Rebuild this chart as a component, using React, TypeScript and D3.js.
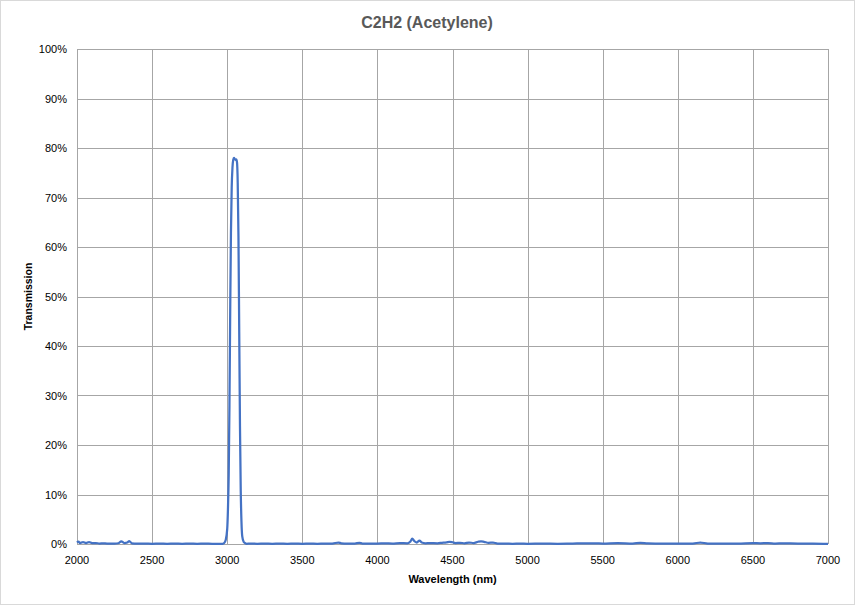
import React, { useEffect, useRef } from 'react';
import * as d3 from 'd3';

// wavelength (nm) and transmission (%)
const wavelengths = [
  2000, 2010, 2020, 2040, 2060, 2080, 2100, 2125, 2150, 2175, 2200, 2250, 2275, 2295, 2315, 2335, 2348,
  2365, 2400, 2450, 2500, 2550, 2600, 2650, 2700, 2750, 2800, 2850, 2900, 2950, 2970, 2980, 2990, 3000,
  3005, 3010, 3015, 3020, 3025, 3030, 3035, 3040, 3045, 3050, 3055, 3060, 3065, 3070, 3075, 3080, 3085,
  3090, 3095, 3100, 3110, 3120, 3130, 3150, 3200, 3250, 3300, 3350, 3400, 3450, 3500, 3550, 3600, 3650,
  3700, 3740, 3760, 3800, 3850, 3880, 3900, 3950, 4000, 4050, 4100, 4150, 4200, 4220, 4232, 4245, 4262,
  4280, 4295, 4320, 4350, 4400, 4430, 4460, 4480, 4500, 4520, 4550, 4580, 4610, 4640, 4670, 4690, 4710,
  4740, 4770, 4800, 4850, 4900, 4950, 5000, 5100, 5200, 5300, 5450, 5500, 5600, 5700, 5750, 5800, 5900,
  6000, 6100, 6150, 6200, 6300, 6400, 6500, 6550, 6600, 6650, 6700, 6800, 6900, 7000,
];
const transmission = [
  0.3, 0.5, 0.2, 0.4, 0.2, 0.4, 0.2, 0.2, 0.1, 0.15, 0.1, 0.1, 0.15, 0.55, 0.2, 0.3, 0.6,
  0.15, 0.1, 0.1, 0.05, 0.1, 0.05, 0.1, 0.05, 0.1, 0.05, 0.1, 0.05, 0.05, 0.05, 0.2, 0.8, 3,
  7, 14, 28, 47, 63, 72, 76, 77.6, 78, 77.8, 77.6, 77.7, 77.2, 73, 62, 43, 24,
  11, 4.5, 1.6, 0.4, 0.15, 0.05, 0.1, 0.05, 0.1, 0.05, 0.1, 0.05, 0.1, 0.05, 0.1, 0.05, 0.1,
  0.1, 0.3, 0.15, 0.1, 0.1, 0.25, 0.1, 0.1, 0.1, 0.15, 0.1, 0.2, 0.15, 0.5, 1.1, 0.6, 0.3,
  0.7, 0.3, 0.15, 0.2, 0.15, 0.25, 0.35, 0.45, 0.35, 0.2, 0.25, 0.15, 0.3, 0.2, 0.45, 0.55, 0.45,
  0.25, 0.3, 0.1, 0.1, 0.05, 0.1, 0.05, 0.1, 0.05, 0.1, 0.15, 0.1, 0.2, 0.1, 0.25, 0.15, 0.1,
  0.1, 0.1, 0.3, 0.1, 0.1, 0.1, 0.2, 0.15, 0.2, 0.1, 0.15, 0.1, 0.1, 0.05,
];
const xTicks = [2000, 2500, 3000, 3500, 4000, 4500, 5000, 5500, 6000, 6500, 7000];
const yTicks = [0, 10, 20, 30, 40, 50, 60, 70, 80, 90, 100];

const App: React.FC = () => {
  const svgRef = useRef<SVGSVGElement>(null);

  useEffect(() => {
    if (!svgRef.current) return;
    const width = 855;
    const height = 605;
    const margin = { top: 49, right: 27, bottom: 61, left: 77 };
    const font = "'Liberation Sans', Arial, sans-serif";

    const svg = d3.select(svgRef.current).attr('width', width).attr('height', height);
    svg.selectAll('*').remove();

    svg
      .append('rect')
      .attr('x', 0.5)
      .attr('y', 0.5)
      .attr('width', width - 1)
      .attr('height', height - 1)
      .attr('fill', '#fff')
      .attr('stroke', '#d9d9d9');

    const x = d3
      .scaleLinear()
      .domain([2000, 7000])
      .range([margin.left, width - margin.right]);
    const y = d3
      .scaleLinear()
      .domain([0, 100])
      .range([height - margin.bottom, margin.top]);

    // grid
    svg
      .append('g')
      .selectAll('line')
      .data(yTicks)
      .enter()
      .append('line')
      .attr('x1', x(2000))
      .attr('x2', x(7000))
      .attr('y1', (d) => Math.round(y(d)) + 0.5)
      .attr('y2', (d) => Math.round(y(d)) + 0.5)
      .attr('stroke', '#a6a6a6')
      .attr('stroke-width', 1);
    svg
      .append('g')
      .selectAll('line')
      .data(xTicks)
      .enter()
      .append('line')
      .attr('x1', (d) => Math.round(x(d)) + 0.5)
      .attr('x2', (d) => Math.round(x(d)) + 0.5)
      .attr('y1', y(0))
      .attr('y2', y(100))
      .attr('stroke', '#a6a6a6')
      .attr('stroke-width', 1);

    // tick labels
    svg
      .append('g')
      .selectAll('text')
      .data(yTicks)
      .enter()
      .append('text')
      .attr('x', margin.left - 10)
      .attr('y', (d) => y(d) + 4)
      .attr('text-anchor', 'end')
      .attr('font-family', font)
      .attr('font-size', 11)
      .attr('fill', '#000')
      .text((d) => `${d}%`);
    svg
      .append('g')
      .selectAll('text')
      .data(xTicks)
      .enter()
      .append('text')
      .attr('x', (d) => x(d))
      .attr('y', y(0) + 20)
      .attr('text-anchor', 'middle')
      .attr('font-family', font)
      .attr('font-size', 11)
      .attr('fill', '#000')
      .text((d) => String(d));

    // the curve
    const pts = wavelengths.map((w, i) => [w, transmission[i]] as [number, number]);
    const line = d3
      .line<[number, number]>()
      .x((d) => x(d[0]))
      .y((d) => y(d[1]))
      .curve(d3.curveMonotoneX);
    svg
      .append('path')
      .datum(pts)
      .attr('d', line)
      .attr('fill', 'none')
      .attr('stroke', '#4472c4')
      .attr('stroke-width', 2.25)
      .attr('stroke-linejoin', 'round');

    // titles
    svg
      .append('text')
      .attr('x', 427)
      .attr('y', 28)
      .attr('text-anchor', 'middle')
      .attr('font-family', font)
      .attr('font-size', 16)
      .attr('font-weight', 'bold')
      .attr('fill', '#595959')
      .text('C2H2 (Acetylene)');
    svg
      .append('text')
      .attr('x', (x(2000) + x(7000)) / 2)
      .attr('y', 583)
      .attr('text-anchor', 'middle')
      .attr('font-family', font)
      .attr('font-size', 11)
      .attr('font-weight', 'bold')
      .attr('fill', '#000')
      .text('Wavelength (nm)');
    svg
      .append('text')
      .attr('transform', `translate(32, ${(y(0) + y(100)) / 2}) rotate(-90)`)
      .attr('text-anchor', 'middle')
      .attr('font-family', font)
      .attr('font-size', 10.5)
      .attr('font-weight', 'bold')
      .attr('fill', '#000')
      .text('Transmission');
  }, []);

  return <svg ref={svgRef} style={{ position: 'absolute', left: 0, top: 0 }}></svg>;
};

export default App;
